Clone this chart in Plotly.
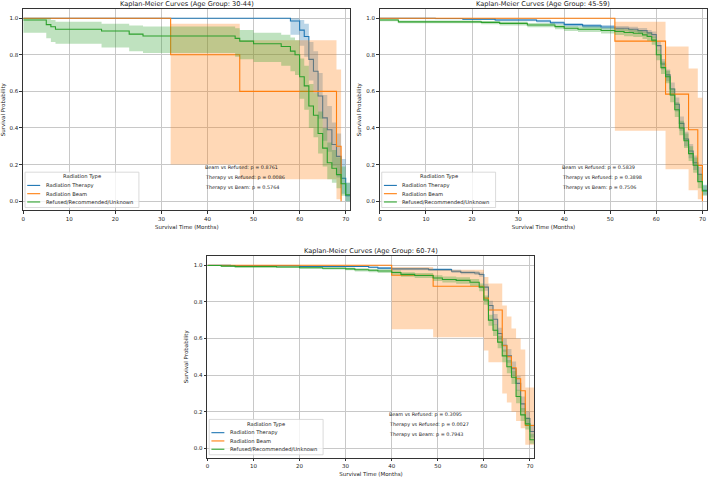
import plotly.graph_objects as go

# ---------------- data ----------------
group_names = ["Radiation Therapy", "Radiation Beam", "Refused/Recommended/Unknown"]
group_colors = ["#1f77b4", "#ff7f0e", "#2ca02c"]
group_fills = ["rgba(31,119,180,0.3)", "rgba(255,127,14,0.3)", "rgba(44,160,44,0.3)"]
age_groups = ["30-44", "45-59", "60-74"]
legend_title = "Radiation Type"
x_ticks = [0, 10, 20, 30, 40, 50, 60, 70]
y_ticks = [0.0, 0.2, 0.4, 0.6, 0.8, 1.0]

# --- Age 30-44 ---
a1_ther_t = [0, 58, 60, 61, 62, 63, 64, 65, 66, 67, 68, 69, 70]
a1_ther_s = [1.0, 0.985, 0.935, 0.90, 0.775, 0.71, 0.575, 0.455, 0.39, 0.31, 0.245, 0.125, 0.03]
a1_ther_lo = [1.0, 0.91, 0.85, 0.79, 0.66, 0.59, 0.45, 0.33, 0.27, 0.19, 0.13, 0.04, 0.0]
a1_ther_hi = [1.0, 1.0, 0.99, 0.97, 0.87, 0.82, 0.70, 0.58, 0.52, 0.43, 0.37, 0.23, 0.10]
a1_ther_end = 71

a1_beam_t = [0, 32, 47, 68, 69]
a1_beam_s = [1.0, 0.8, 0.6, 0.3, 0.0]
a1_beam_lo = [1.0, 0.2, 0.12, 0.01, 0.0]
a1_beam_hi = [1.0, 0.97, 0.88, 0.72, 0.0]
a1_beam_end = 69

a1_ref_t = [0, 5, 6, 7, 17, 23, 26, 46, 47, 50, 56, 58, 59, 60, 61, 62, 63, 64, 65, 66, 67, 68, 69, 70]
a1_ref_s = [0.99, 0.965, 0.953, 0.94, 0.93, 0.913, 0.903, 0.89, 0.875, 0.86, 0.845, 0.82, 0.80, 0.68,
            0.63, 0.52, 0.47, 0.37, 0.29, 0.21, 0.18, 0.145, 0.095, 0.035]
a1_ref_lo = [0.92, 0.89, 0.87, 0.86, 0.84, 0.82, 0.81, 0.79, 0.775, 0.76, 0.74, 0.71, 0.69, 0.56,
             0.50, 0.40, 0.35, 0.26, 0.19, 0.12, 0.10, 0.07, 0.03, 0.0]
a1_ref_hi = [1.0, 1.0, 0.99, 0.98, 0.97, 0.96, 0.955, 0.945, 0.935, 0.92, 0.91, 0.895, 0.88, 0.78,
             0.74, 0.64, 0.59, 0.49, 0.40, 0.32, 0.28, 0.24, 0.19, 0.10]
a1_ref_end = 71

a1_pvals = ["Beam vs Refused: p = 0.8761", "Therapy vs Refused: p = 0.0086", "Therapy vs Beam: p = 0.5764"]

# --- Age 45-59 ---
a2_ther_t = [0, 12, 18, 25, 34, 37, 40, 44, 48, 51, 54, 56, 58, 59, 60, 61, 62, 63, 64, 65, 66, 67, 68, 69, 70]
a2_ther_s = [1.0, 0.998, 0.995, 0.99, 0.985, 0.975, 0.965, 0.958, 0.952, 0.945, 0.94, 0.932, 0.92, 0.91,
             0.85, 0.75, 0.69, 0.613, 0.53, 0.425, 0.34, 0.274, 0.21, 0.147, 0.06]
a2_ther_lo = [1.0, 0.994, 0.99, 0.984, 0.977, 0.966, 0.955, 0.946, 0.94, 0.931, 0.925, 0.916, 0.902, 0.89,
              0.825, 0.72, 0.655, 0.575, 0.49, 0.385, 0.30, 0.235, 0.17, 0.11, 0.035]
a2_ther_hi = [1.0, 1.0, 0.999, 0.995, 0.991, 0.983, 0.974, 0.968, 0.963, 0.957, 0.953, 0.946, 0.936, 0.927,
              0.872, 0.777, 0.72, 0.648, 0.567, 0.463, 0.38, 0.313, 0.25, 0.187, 0.09]
a2_ther_end = 71

a2_beam_t = [0, 51, 62, 67, 69, 70]
a2_beam_s = [1.0, 0.875, 0.585, 0.39, 0.195, 0.0]
a2_beam_lo = [1.0, 0.385, 0.175, 0.06, 0.01, 0.0]
a2_beam_hi = [1.0, 0.98, 0.845, 0.725, 0.565, 0.0]
a2_beam_end = 70

a2_ref_t = [0, 4, 22, 26, 32, 38, 40, 43, 48, 51, 53, 55, 57, 58, 59, 60, 61, 62, 63, 64, 65, 66, 67, 68, 69, 70]
a2_ref_s = [0.99, 0.98, 0.977, 0.972, 0.963, 0.954, 0.945, 0.94, 0.933, 0.927, 0.922, 0.918, 0.909, 0.90,
            0.88, 0.80, 0.73, 0.68, 0.58, 0.50, 0.40, 0.33, 0.26, 0.196, 0.107, 0.056]
a2_ref_lo = [0.983, 0.972, 0.967, 0.96, 0.95, 0.94, 0.93, 0.924, 0.916, 0.908, 0.902, 0.897, 0.887, 0.877,
             0.855, 0.77, 0.695, 0.645, 0.54, 0.46, 0.36, 0.29, 0.22, 0.155, 0.07, 0.03]
a2_ref_hi = [0.996, 0.987, 0.985, 0.981, 0.974, 0.966, 0.958, 0.954, 0.948, 0.943, 0.939, 0.936, 0.928, 0.921,
             0.902, 0.828, 0.763, 0.713, 0.617, 0.54, 0.44, 0.37, 0.30, 0.238, 0.147, 0.085]
a2_ref_end = 71

a2_pvals = ["Beam vs Refused: p = 0.5839", "Therapy vs Refused: p = 0.3898", "Therapy vs Beam: p = 0.7506"]

# --- Age 60-74 ---
a3_ther_t = [0, 5, 20, 35, 37, 40, 48, 53, 55, 58, 59, 60, 61, 62, 63, 64, 65, 66, 67, 68, 69, 70]
a3_ther_s = [1.0, 0.997, 0.993, 0.989, 0.984, 0.98, 0.976, 0.967, 0.96, 0.957, 0.949, 0.88, 0.78, 0.705,
             0.627, 0.563, 0.505, 0.435, 0.355, 0.243, 0.163, 0.092]
a3_ther_lo = [1.0, 0.994, 0.99, 0.984, 0.978, 0.973, 0.968, 0.958, 0.95, 0.946, 0.937, 0.86, 0.752, 0.674,
              0.593, 0.527, 0.467, 0.395, 0.315, 0.205, 0.125, 0.06]
a3_ther_hi = [1.0, 0.999, 0.996, 0.993, 0.99, 0.986, 0.983, 0.975, 0.969, 0.967, 0.96, 0.898, 0.806, 0.734,
              0.659, 0.598, 0.542, 0.474, 0.395, 0.283, 0.203, 0.13]
a3_ther_end = 71

a3_beam_t = [0, 40, 49, 60, 61, 64, 65, 66, 67, 68, 69]
a3_beam_s = [1.0, 0.945, 0.885, 0.82, 0.755, 0.56, 0.50, 0.44, 0.38, 0.315, 0.125]
a3_beam_lo = [1.0, 0.65, 0.607, 0.535, 0.47, 0.30, 0.25, 0.20, 0.15, 0.11, 0.02]
a3_beam_hi = [1.0, 0.99, 0.975, 0.935, 0.90, 0.78, 0.72, 0.655, 0.60, 0.54, 0.333]
a3_beam_end = 71

a3_ref_t = [0, 3, 6, 15, 20, 25, 30, 32, 35, 37, 40, 42, 45, 49, 51, 54, 57, 59, 60, 61, 62, 63, 64, 65,
            66, 67, 68, 69, 70, 71]
a3_ref_s = [0.998, 0.995, 0.992, 0.99, 0.986, 0.983, 0.98, 0.975, 0.972, 0.968, 0.96, 0.95, 0.944, 0.93,
            0.922, 0.917, 0.907, 0.88, 0.81, 0.70, 0.645, 0.58, 0.505, 0.446, 0.388, 0.283, 0.183, 0.134,
            0.047, 0.0]
a3_ref_lo = [0.995, 0.991, 0.987, 0.984, 0.98, 0.976, 0.972, 0.966, 0.962, 0.957, 0.948, 0.937, 0.93, 0.914,
             0.905, 0.899, 0.888, 0.858, 0.784, 0.67, 0.613, 0.546, 0.47, 0.41, 0.352, 0.247, 0.15, 0.103,
             0.025, 0.0]
a3_ref_hi = [1.0, 0.998, 0.996, 0.994, 0.991, 0.989, 0.987, 0.983, 0.981, 0.978, 0.971, 0.962, 0.957, 0.945,
             0.938, 0.934, 0.925, 0.9, 0.834, 0.73, 0.676, 0.613, 0.54, 0.482, 0.424, 0.32, 0.22, 0.17,
             0.08, 0.0]
a3_ref_end = 71

a3_pvals = ["Beam vs Refused: p = 0.3095", "Therapy vs Refused: p = 0.0027", "Therapy vs Beam: p = 0.7943"]

# ---------------- figure ----------------
panels = [
    dict(series=[(a1_ther_t, a1_ther_s, a1_ther_lo, a1_ther_hi, a1_ther_end),
                 (a1_beam_t, a1_beam_s, a1_beam_lo, a1_beam_hi, a1_beam_end),
                 (a1_ref_t, a1_ref_s, a1_ref_lo, a1_ref_hi, a1_ref_end)],
         pvals=a1_pvals, age=age_groups[0]),
    dict(series=[(a2_ther_t, a2_ther_s, a2_ther_lo, a2_ther_hi, a2_ther_end),
                 (a2_beam_t, a2_beam_s, a2_beam_lo, a2_beam_hi, a2_beam_end),
                 (a2_ref_t, a2_ref_s, a2_ref_lo, a2_ref_hi, a2_ref_end)],
         pvals=a2_pvals, age=age_groups[1]),
    dict(series=[(a3_ther_t, a3_ther_s, a3_ther_lo, a3_ther_hi, a3_ther_end),
                 (a3_beam_t, a3_beam_s, a3_beam_lo, a3_beam_hi, a3_beam_end),
                 (a3_ref_t, a3_ref_s, a3_ref_lo, a3_ref_hi, a3_ref_end)],
         pvals=a3_pvals, age=age_groups[2]),
]

W, H = 708, 477
# axes boxes in pixels: (left, right, top, bottom)
boxes = [(21.3, 349.3, 9.1, 211.2), (379.0, 707.0, 9.1, 211.2), (206.0, 534.0, 257.1, 459.5)]

FONT = "DejaVu Sans"
TXT = "#222222"
fig = go.Figure()
layout = dict(width=W, height=H, margin=dict(l=0, r=0, t=0, b=0),
              paper_bgcolor="white", plot_bgcolor="white",
              font=dict(family=FONT, size=5.5, color=TXT),
              showlegend=False)
annotations = []
shapes = []


def step_xy(t, v, end):
    xs = list(t)
    ys = list(v)
    if end > xs[-1]:
        xs.append(end)
        ys.append(ys[-1])
    return xs, ys


def px(x):
    return x / W


def py(y):
    return 1 - y / H


for i, panel in enumerate(panels):
    sfx = "" if i == 0 else str(i + 1)
    xa, ya = "x" + sfx, "y" + sfx
    for g, (t, s, lo, hi, end) in enumerate(panel["series"]):
        xl, yl = step_xy(t, lo, end)
        xh, yh = step_xy(t, hi, end)
        xs, ys = step_xy(t, s, end)
        fig.add_trace(go.Scatter(x=xl, y=yl, mode="lines", line=dict(width=0, shape="hv"),
                                 showlegend=False, hoverinfo="skip", xaxis=xa, yaxis=ya))
        fig.add_trace(go.Scatter(x=xh, y=yh, mode="lines", line=dict(width=0, shape="hv"),
                                 fill="tonexty", fillcolor=group_fills[g],
                                 showlegend=False, hoverinfo="skip", xaxis=xa, yaxis=ya))
        fig.add_trace(go.Scatter(x=xs, y=ys, mode="lines", name=group_names[g],
                                 line=dict(color=group_colors[g], width=1.1, shape="hv"),
                                 showlegend=False, xaxis=xa, yaxis=ya))
    l, r, tp, bt = boxes[i]
    dom_x = [l / W, r / W]
    dom_y = [1 - bt / H, 1 - tp / H]
    axcommon = dict(showline=True, linecolor="#333333", linewidth=0.8, mirror=True,
                    showgrid=True, gridcolor="#c8c8c8", gridwidth=0.8, zeroline=False,
                    ticks="outside", ticklen=3, tickwidth=0.8, tickcolor="#333333",
                    tickfont=dict(family=FONT, size=5.5, color=TXT))
    layout["xaxis" + sfx] = dict(domain=dom_x, range=[0, 71], anchor=ya, tickvals=x_ticks,
                                 title=dict(text="Survival Time (Months)", standoff=4,
                                            font=dict(family=FONT, size=5.5)), **axcommon)
    layout["yaxis" + sfx] = dict(domain=dom_y, range=[-0.05, 1.05], anchor=xa, tickvals=y_ticks,
                                 tickformat=".1f",
                                 title=dict(text="Survival Probability", standoff=4,
                                            font=dict(family=FONT, size=5.5)), **axcommon)
    # ---- manual legend (matplotlib-like compact box) ----
    bx0, bx1 = l + 1.8, l + 116
    by0, by1 = bt - 38.3, bt - 2.8
    shapes.append(dict(type="rect", xref="paper", yref="paper", x0=px(bx0), x1=px(bx1),
                       y0=py(by1), y1=py(by0), fillcolor="rgba(255,255,255,0.8)",
                       line=dict(color="#d0d0d0", width=0.8), layer="above"))
    annotations.append(dict(text=legend_title, x=px((bx0 + bx1) / 2), y=py(bt - 33.6),
                            xref="paper", yref="paper", xanchor="center", yanchor="middle",
                            showarrow=False, font=dict(family=FONT, size=5.2, color=TXT)))
    for g, off in enumerate([25.0, 16.7, 8.4]):
        yy = bt - off
        shapes.append(dict(type="line", xref="paper", yref="paper", x0=px(l + 4), x1=px(l + 17),
                           y0=py(yy), y1=py(yy), line=dict(color=group_colors[g], width=1.1),
                           layer="above"))
        annotations.append(dict(text=group_names[g], x=px(l + 20.5), y=py(yy), xref="paper",
                                yref="paper", xanchor="left", yanchor="middle", showarrow=False,
                                font=dict(family=FONT, size=5.2, color=TXT)))
    annotations.append(dict(text="Kaplan-Meier Curves (Age Group: %s)" % panel["age"],
                            x=(l + r) / 2 / W, y=1 - (tp - 5) / H, xref="paper", yref="paper",
                            xanchor="center", yanchor="middle", showarrow=False,
                            font=dict(family=FONT, size=6.6, color=TXT)))
    for k, (txt, yv) in enumerate(zip(panel["pvals"], [0.185, 0.13, 0.075])):
        annotations.append(dict(text=txt, x=39, y=yv, xref=xa, yref=ya, xanchor="left",
                                yanchor="middle", showarrow=False,
                                font=dict(family=FONT, size=4.9, color=TXT)))

layout["annotations"] = annotations
layout["shapes"] = shapes
fig.update_layout(**layout)
fig.write_html("out.html")
